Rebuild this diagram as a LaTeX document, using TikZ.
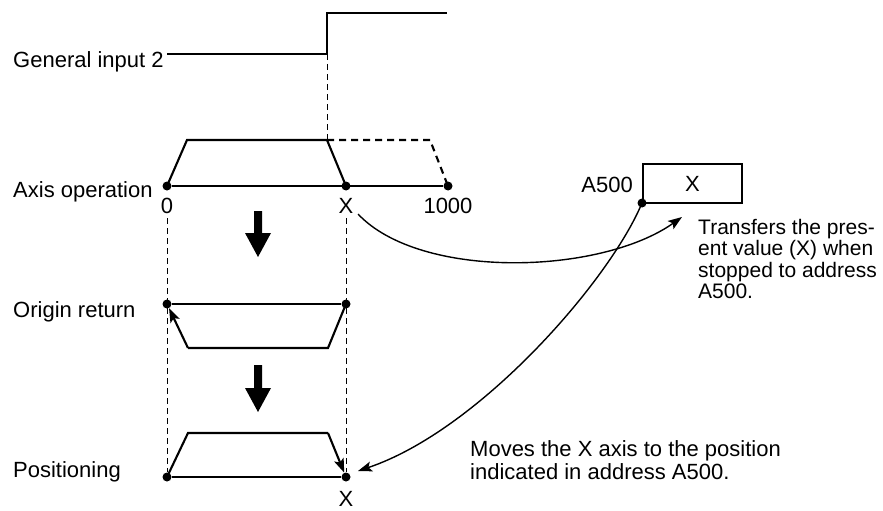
\documentclass[tikz,border=0pt]{standalone}
\usepackage{fontspec}
\setmainfont{Liberation Sans}
\usetikzlibrary{arrows.meta}
\begin{document}
\begin{tikzpicture}[x=1pt,y=-1pt,
  dot/.style={circle,fill=black,inner sep=0pt,minimum size=9pt},
  lbl/.style={font=\fontsize{22}{21}\selectfont,inner sep=0pt},
  txt/.style={font=\fontsize{21}{21.5}\selectfont,inner sep=0pt,align=left},
  wave/.style={line width=2.1pt,line join=miter},
  dwave/.style={line width=2.1pt,dash pattern=on 7pt off 5pt},
  guide/.style={line width=0.9pt,dash pattern=on 6pt off 4pt},
  tip/.style={-{Stealth[length=14pt,width=10pt,inset=3pt]}},
  curve/.style={line width=1.4pt,tip},
  bigarrow/.style={fill=black}
]
\useasboundingbox (0,0) rectangle (883,511);

% labels on the left
\node[lbl,anchor=base west] (lgen) at (13,67) {General input 2};
\node[lbl,anchor=base west] (laxis) at (13,197) {Axis operation};
\node[lbl,anchor=base west] (lorig) at (13,317) {Origin return};
\node[lbl,anchor=base west] (lpos) at (13,477) {Positioning};

% general input signal
\coordinate (g0) at (167,54);
\coordinate (g1) at (327,54);
\coordinate (g2) at (327,13);
\coordinate (g3) at (447,13);
\draw[wave] (g0) -- (g1) -- (g2) -- (g3);

% axis operation
\node[dot] (a0) at (167,186) {};
\node[dot] (ax) at (346,186) {};
\node[dot] (a1000) at (448,186) {};
\coordinate (at1) at (187,140);
\coordinate (at2) at (327,140);
\coordinate (at3) at (430,140);
\draw[wave] (a0) -- (a1000);
\draw[wave] (a0.center) -- (at1) -- (at2) -- (ax.center);
\draw[dwave] (at2) -- (at3) -- (a1000.center);
\draw[guide] (g1) -- (at2);
\node[lbl,anchor=base] (n0) at (167,213) {0};
\node[lbl,anchor=base] (nx) at (346,213) {X};
\node[lbl,anchor=base] (n1000) at (448,213) {1000};

% origin return
\node[dot] (o0) at (167,304) {};
\node[dot] (o1) at (346,304) {};
\coordinate (ob1) at (328,348);
\coordinate (ob2) at (188,348);
\draw[wave] (o0) -- (o1);
\draw[wave] (o1.center) -- (ob1) -- (ob2);
\draw[wave,tip] (ob2) -- (o0);

% positioning
\node[dot] (p0) at (167,477) {};
\node[dot] (p1) at (346,477) {};
\coordinate (pt1) at (188,433);
\coordinate (pt2) at (328,433);
\draw[wave] (p0) -- (p1);
\draw[wave] (p0.center) -- (pt1) -- (pt2);
\draw[wave,tip] (pt2) -- (p1);
\node[lbl,anchor=base] (px) at (346,506) {X};

% dashed guides
\draw[guide] (n0.south) ++(0,5) -- (p0);
\draw[guide] (nx.south) ++(0,5) -- (p1);

% big down arrows
\fill[bigarrow] (254,211) -- (262,211) -- (262,233) -- (271,233) -- (258,257) -- (245,233) -- (254,233) -- cycle;
\fill[bigarrow] (254,365) -- (262,365) -- (262,388) -- (271,388) -- (258,412) -- (245,388) -- (254,388) -- cycle;

% A500 register
\node[draw,line width=1.4pt,minimum width=99pt,minimum height=39pt,inner sep=0pt,font=\fontsize{22}{21}\selectfont] (reg) at (692.5,183.5) {X};
\node[lbl,anchor=base east] (la500) at (633,192) {A500};
\node[dot] (rdot) at (642,203) {};

% explanatory texts
\node[txt,anchor=north west] (t1) at (698,219) {Transfers the pres-\\ent value (X) when\\stopped to address\\A500.};
\node[txt,anchor=north west,font=\fontsize{22}{23.3}\selectfont] (t2) at (470,440) {Moves the X axis to the position\\indicated in address A500.};

% curved connectors
\coordinate (c1end) at (682,217);
\coordinate (c2end) at (358,471);
\draw[curve] (358,214) .. controls (420,280) and (600,275) .. (c1end);
\draw[curve] (rdot.center) .. controls (610,280) and (480,430) .. (c2end);
\end{tikzpicture}
\end{document}
